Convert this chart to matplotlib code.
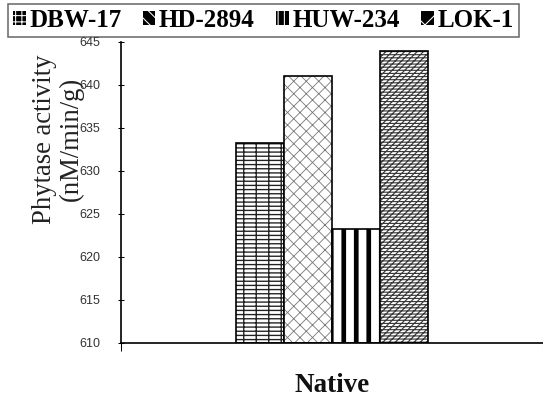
import numpy as np
import matplotlib
matplotlib.use("Agg")
import matplotlib.pyplot as plt
from matplotlib.patches import Patch

# data
cultivars = ["DBW-17", "HD-2894", "HUW-234", "LOK-1"]
activity = [633.2, 641.0, 623.2, 643.9]
category = ["Native"]
yticks = [610, 615, 620, 625, 630, 635, 640, 645]

# styling per cultivar: hatch, hatch colour, hatch line width, legend icon hatch
HATCH = ["|---", "xx", "|", "////----"]
HCOL = ["#222222", "#777777", "#000000", "#3a3a3a"]
HLW = [1.3, 0.8, 4.5, 1.1]
ICON = ["++", "\\\\", "||", "x"]

DPI = 75
fig = plt.figure(figsize=(543 / DPI, 398 / DPI), dpi=DPI)
ax = fig.add_axes([121 / 543, 1 - 342.5 / 398, (543 - 121) / 543, (342.5 - 41.7) / 398])

w = 48 / 422
xs = (np.arange(len(cultivars)) - (len(cultivars) - 1) / 2) * w
handles = []
for x, v, name, h, hc, hlw, ic in zip(xs, activity, cultivars, HATCH, HCOL, HLW, ICON):
    b = ax.bar(x, v - yticks[0], bottom=yticks[0], width=w, color="white",
               edgecolor=hc, hatch=h, lw=0)
    b[0].set_hatch_linewidth(hlw)
    ax.bar(x, v - yticks[0], bottom=yticks[0], width=w, fill=False, edgecolor="black", lw=1.6)
    p = Patch(facecolor="black", edgecolor="white", hatch=ic, lw=0, label=name)
    p.set_hatch_linewidth(1.5)
    handles.append(p)

ax.set_xlim(-0.5, 0.5)
ax.set_ylim(yticks[0], yticks[-1])
ax.set_yticks(yticks)
ax.set_yticklabels([str(t) for t in yticks], fontfamily="Liberation Sans", fontsize=12, color="#333333")
ax.tick_params(axis="y", direction="inout", length=6, width=1, pad=17)

ax.set_xticks([0])
ax.set_xticklabels(category, fontfamily="Liberation Serif", fontweight="bold", fontsize=26, color="#111111")
ax.tick_params(axis="x", length=0, pad=29)
ax.set_xticks([-0.5, 0.5], minor=True)
ax.tick_params(axis="x", which="minor", direction="out", length=8, width=1)

for s in ["top", "right"]:
    ax.spines[s].set_visible(False)
for s in ["left", "bottom"]:
    ax.spines[s].set_linewidth(1.6)

fig.text(58 / 543, 1 - 139 / 398, "Phytase activity\n(nM/min/g)", rotation=90, ha="center", va="center",
         multialignment="center", fontfamily="Liberation Serif", fontsize=25.5, color="#222222", linespacing=1.08)

leg = fig.legend(handles=handles, loc="upper left", bbox_to_anchor=(8 / 543, 1 - 4 / 398), ncol=4,
                 frameon=True, fancybox=False, borderaxespad=0, borderpad=0.2,
                 handlelength=0.5, handleheight=0.5, handletextpad=0.15, columnspacing=0.85,
                 prop={"family": "Liberation Serif", "weight": "bold", "size": 24})
leg.get_frame().set_edgecolor("#444444")
leg.get_frame().set_linewidth(1.5)

fig.savefig("out.png", dpi=DPI)
